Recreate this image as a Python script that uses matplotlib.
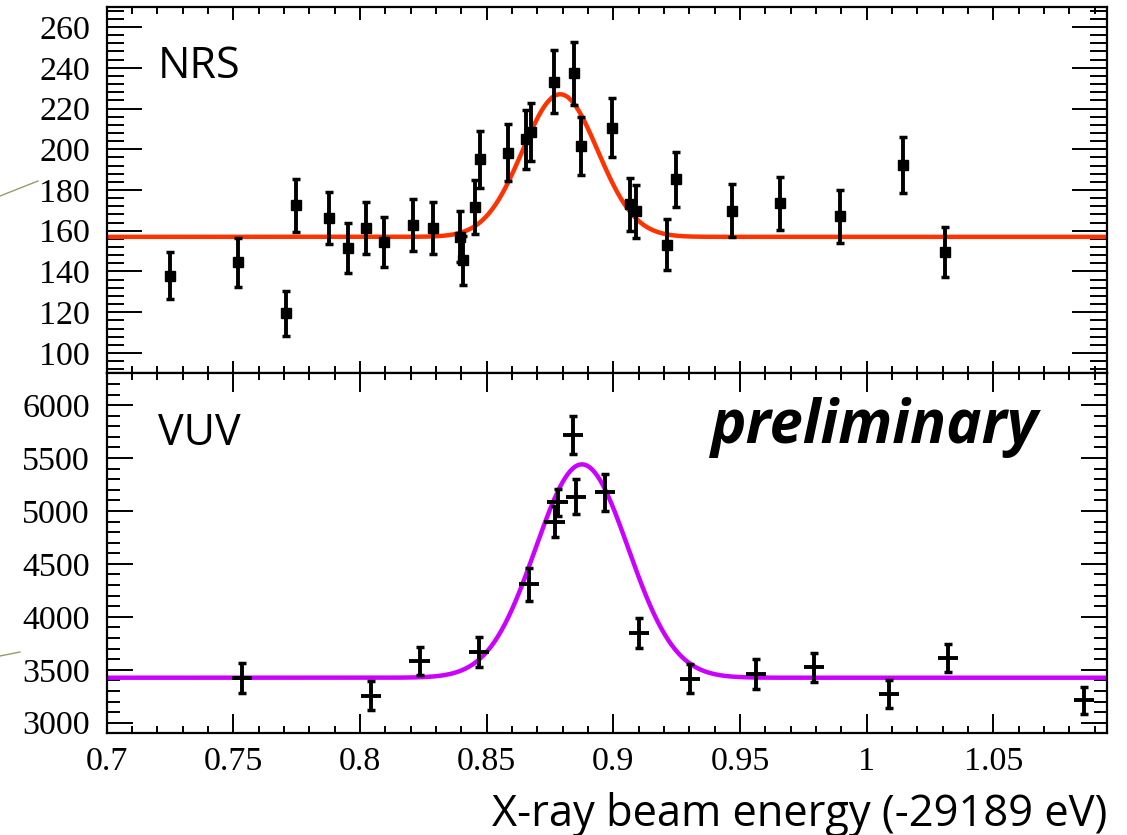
import numpy as np
import matplotlib.pyplot as plt
from matplotlib.ticker import MultipleLocator
from matplotlib.lines import Line2D

# NRS (top panel) data
nrs_x = [0.7250, 0.7517, 0.7707, 0.7746, 0.7877, 0.7952, 0.8023, 0.8096, 0.8211, 0.8290,
         0.8395, 0.8406, 0.8452, 0.8474, 0.8584, 0.8656, 0.8676, 0.8764, 0.8843, 0.8873,
         0.8994, 0.9064, 0.9089, 0.9212, 0.9248, 0.9468, 0.9656, 0.9893, 1.0144, 1.0308]
nrs_y = [138.0, 144.5, 119.5, 172.4, 166.3, 151.6, 161.2, 154.5, 162.9, 161.2,
         157.0, 145.4, 171.7, 195.0, 198.3, 204.8, 208.4, 233.2, 237.2, 201.5,
         210.6, 172.9, 169.6, 153.2, 185.2, 169.9, 173.4, 167.1, 192.2, 149.6]
nrs_err = [11.7, 12.0, 11.0, 13.1, 12.9, 12.3, 12.7, 12.4, 12.8, 12.7,
           12.5, 12.1, 13.1, 14.0, 14.1, 14.3, 14.4, 15.3, 15.4, 14.2,
           14.5, 13.1, 13.0, 12.4, 13.6, 13.0, 13.2, 12.9, 13.9, 12.2]

# VUV (bottom panel) data
vuv_x = [0.7533, 0.8044, 0.8235, 0.8470, 0.8668, 0.8768, 0.8780, 0.8853, 0.8840,
         0.8968, 0.9101, 0.9304, 0.9563, 0.9793, 1.0087, 1.0320, 1.0857]
vuv_y = [3422, 3255, 3585, 3667, 4308, 4899, 5082, 5135, 5717,
         5176, 3846, 3415, 3462, 3522, 3271, 3610, 3210]
vuv_err = [140, 135, 134, 141, 155, 145, 130, 165, 180,
           173, 141, 138, 141, 138, 133, 135, 126]
vuv_xerr = 0.004

# fitted gaussian + constant
nrs_fit = dict(base=157.0, amp=70.0, mu=0.8790, sigma=0.0148)
vuv_fit = dict(base=3425.0, amp=2015.0, mu=0.8876, sigma=0.0183)


def gauss(x, base, amp, mu, sigma):
    return base + amp * np.exp(-0.5 * ((x - mu) / sigma) ** 2)


fig = plt.figure(figsize=(11.27, 8.35), dpi=100)
left, right = 0.0947, 0.9825
ax1 = fig.add_axes([left, 0.5529, right - left, 0.992 - 0.5529])
ax2 = fig.add_axes([left, 0.1218, right - left, 0.5529 - 0.1218])

serif = 'Liberation Serif'
xx = np.linspace(0.7, 1.095, 800)

for ax in (ax1, ax2):
    ax.set_xlim(0.7, 1.095)
    for sp in ax.spines.values():
        sp.set_linewidth(1.6)
    ax.xaxis.set_major_locator(MultipleLocator(0.05))
    ax.xaxis.set_minor_locator(MultipleLocator(0.01))

# top panel
ax1.plot(xx, gauss(xx, **nrs_fit), color='#ff3300', lw=3.2, zorder=2)
ax1.errorbar(nrs_x, nrs_y, yerr=nrs_err, fmt='s', color='black', ms=6.5,
             elinewidth=2.8, capsize=3, capthick=2.5, zorder=3)
ax1.set_ylim(90, 270)
ax1.yaxis.set_major_locator(MultipleLocator(20))
ax1.yaxis.set_minor_locator(MultipleLocator(4))
ax1.tick_params(axis='y', which='major', direction='in', length=25, width=1.4,
                left=True, right=True, labelsize=24.5, pad=12)
ax1.tick_params(axis='y', which='minor', direction='in', length=12.5, width=1.4,
                left=True, right=True)
ax1.tick_params(axis='x', which='major', direction='in', length=9, width=1.4,
                top=True, bottom=True, labelbottom=False)
ax1.tick_params(axis='x', which='minor', direction='in', length=5, width=1.4,
                top=True, bottom=True)
ax1.text(0.0513, 0.8055, 'NRS', transform=ax1.transAxes, fontsize=31,
         family='Open Sans', va='baseline', ha='left')

# bottom panel
ax2.plot(xx, gauss(xx, **vuv_fit), color='#cc00ff', lw=3.2, zorder=2)
ax2.errorbar(vuv_x, vuv_y, xerr=vuv_xerr, fmt='none', ecolor='black',
             elinewidth=2.8, capsize=0, zorder=3)
ax2.errorbar(vuv_x, vuv_y, yerr=vuv_err, fmt='none', ecolor='black',
             elinewidth=2.8, capsize=3, capthick=2.5, zorder=3)
ax2.set_ylim(2900, 6300)
ax2.yaxis.set_major_locator(MultipleLocator(500))
ax2.yaxis.set_minor_locator(MultipleLocator(100))
ax2.tick_params(axis='y', which='major', direction='in', length=19, width=1.4,
                left=True, right=True, labelsize=24.5, pad=12)
ax2.tick_params(axis='y', which='minor', direction='in', length=9.5, width=1.4,
                left=True, right=True)
ax2.tick_params(axis='x', which='major', direction='in', length=14, width=1.4,
                top=True, bottom=True, labelsize=24.5, pad=9.5)
ax2.tick_params(axis='x', which='minor', direction='in', length=5, width=1.4,
                top=True, bottom=True)
ax2.xaxis.set_major_formatter(plt.FuncFormatter(lambda v, p: ('%.2f' % v).rstrip('0').rstrip('.')))
for lab in ax1.get_yticklabels() + ax2.get_yticklabels() + ax2.get_xticklabels():
    lab.set_fontfamily(serif)
ax2.text(0.0513, 0.8008, 'VUV', transform=ax2.transAxes, fontsize=31,
         family='Open Sans', va='baseline', ha='left')
ax2.text(0.604, 0.806, 'preliminary', transform=ax2.transAxes, fontsize=43,
         family='Open Sans', weight='bold', style='italic', va='baseline', ha='left')

fig.text(1107 / 1127, 1 - 826 / 835, 'X-ray beam energy (-29189 eV)', fontsize=31.3,
         family='Open Sans', ha='right', va='baseline')

# slide decoration lines at left edge
fig.add_artist(Line2D([0, 38 / 1127], [1 - 196 / 835, 1 - 181 / 835], color='#9a9a70', lw=1))
fig.add_artist(Line2D([0, 20 / 1127], [1 - 656 / 835, 1 - 652 / 835], color='#9a9a70', lw=1))

fig.savefig('out.png', dpi=100)
